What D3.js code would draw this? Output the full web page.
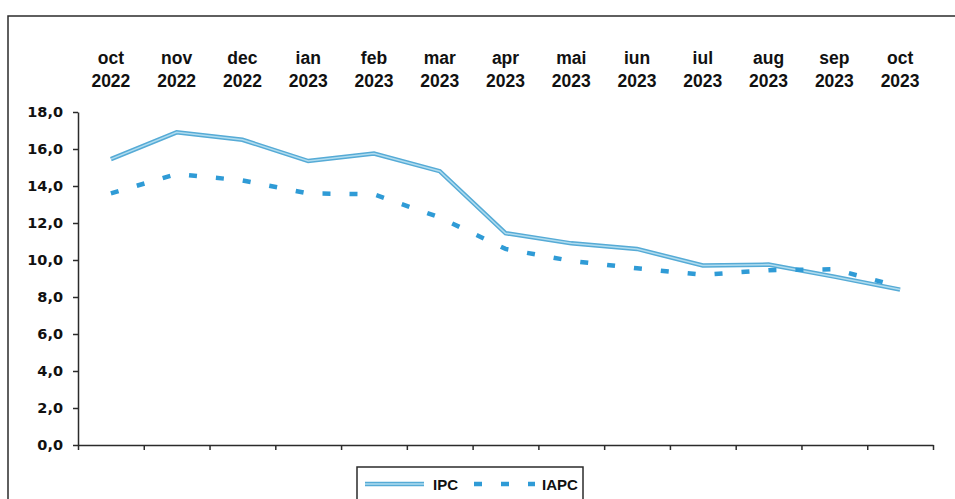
<!DOCTYPE html>
<html>
<head>
<meta charset="utf-8">
<script src="https://cdn.jsdelivr.net/npm/d3@7"></script>
<style>
  body { margin: 0; background: #fff; }
  svg { display: block; }
</style>
</head>
<body>
<div id="chart"></div>
<script>
// data
var months = ["oct", "nov", "dec", "ian", "feb", "mar", "apr", "mai", "iun", "iul", "aug", "sep", "oct"];
var years = ["2022", "2022", "2022", "2023", "2023", "2023", "2023", "2023", "2023", "2023", "2023", "2023", "2023"];
var ipc = [15.45, 16.9, 16.5, 15.35, 15.75, 14.8, 11.45, 10.9, 10.6, 9.7, 9.75, 9.1, 8.4];
var iapc = [13.6, 14.65, 14.3, 13.6, 13.55, 12.3, 10.6, 9.95, 9.55, 9.2, 9.45, 9.5, 8.55];
var yTicks = [0, 2, 4, 6, 8, 10, 12, 14, 16, 18];

var svgWidth = 955;
var svgHeight = 499;

var margin = { top: 112, right: 22, bottom: 54, left: 78 };
var chartWidth = svgWidth - margin.left - margin.right;
var chartHeight = svgHeight - margin.top - margin.bottom;

var svg = d3.select("#chart")
    .append("svg")
    .attr("width", svgWidth)
    .attr("height", svgHeight);

// outer frame (runs off the right and bottom edge)
svg.append("rect")
    .attr("x", 8)
    .attr("y", 16)
    .attr("width", 1000)
    .attr("height", 600)
    .attr("fill", "none")
    .attr("stroke", "#2b2b2b")
    .attr("stroke-width", 1.5);

var chartGroup = svg.append("g")
    .attr("transform", `translate(${margin.left}, ${margin.top})`);

var keys = months.map((m, i) => m + " " + years[i]);

var xScale = d3.scalePoint()
    .domain(keys)
    .range([0, chartWidth])
    .padding(0.5);

// band boundaries for the bottom ticks
var xEdge = d3.scaleLinear()
    .domain([0, keys.length])
    .range([0, chartWidth]);

var yScale = d3.scaleLinear()
    .domain([0, 18])
    .range([chartHeight, 0]);

var fmt = d => d3.format(".1f")(d).replace(".", ",");

var leftAxis = d3.axisLeft(yScale)
    .tickValues(yTicks)
    .tickFormat(fmt)
    .tickSize(5)
    .tickSizeOuter(0)
    .tickPadding(10);

var bottomAxis = d3.axisBottom(xEdge)
    .tickValues(d3.range(0, keys.length + 1))
    .tickFormat("")
    .tickSize(5)
    .tickSizeOuter(0);

var xAxis = chartGroup.append("g")
    .attr("transform", `translate(0, ${chartHeight})`)
    .call(bottomAxis);

var yAxis = chartGroup.append("g")
    .call(leftAxis);

xAxis.selectAll("path, line").attr("stroke", "#2b2b2b").attr("stroke-width", 1.5);
yAxis.selectAll("path, line").attr("stroke", "#2b2b2b").attr("stroke-width", 1.5);
yAxis.selectAll("text")
    .attr("font-family", "DejaVu Sans")
    .attr("font-weight", "bold")
    .attr("font-size", "14.5px")
    .attr("fill", "#111");

// month / year labels above the plot
var topLabels = chartGroup.append("g")
    .selectAll("text")
    .data(keys)
    .enter()
    .append("text")
    .attr("text-anchor", "middle")
    .attr("font-family", "Liberation Sans, Arial")
    .attr("font-weight", "bold")
    .attr("font-size", "17.5px")
    .attr("fill", "#111");

topLabels.append("tspan")
    .attr("x", d => xScale(d))
    .attr("y", -48)
    .text((d, i) => months[i]);

topLabels.append("tspan")
    .attr("x", d => xScale(d))
    .attr("y", -25)
    .text((d, i) => years[i]);

var line = d3.line()
    .x((d, i) => xScale(keys[i]))
    .y(d => yScale(d));

// IPC: light blue double-looking line
chartGroup.append("path")
    .datum(ipc)
    .attr("d", line)
    .attr("fill", "none")
    .attr("stroke", "#56abd6")
    .attr("stroke-width", 4.5);

chartGroup.append("path")
    .datum(ipc)
    .attr("d", line)
    .attr("fill", "none")
    .attr("stroke", "#b0dcef")
    .attr("stroke-width", 1.5);

// IAPC: dashed
chartGroup.append("path")
    .datum(iapc)
    .attr("d", line)
    .attr("fill", "none")
    .attr("stroke", "#2f9bd6")
    .attr("stroke-width", 4.5)
    .attr("stroke-dasharray", "8,19");

// legend
var legend = svg.append("g")
    .attr("transform", "translate(357, 467)");

legend.append("rect")
    .attr("width", 226)
    .attr("height", 60)
    .attr("fill", "#fff")
    .attr("stroke", "#2b2b2b")
    .attr("stroke-width", 1.5);

legend.append("line")
    .attr("x1", 8).attr("x2", 67)
    .attr("y1", 17).attr("y2", 17)
    .attr("stroke", "#56abd6")
    .attr("stroke-width", 4.5);

legend.append("line")
    .attr("x1", 8).attr("x2", 67)
    .attr("y1", 17).attr("y2", 17)
    .attr("stroke", "#b0dcef")
    .attr("stroke-width", 1.5);

legend.append("text")
    .attr("x", 76)
    .attr("y", 23)
    .attr("font-family", "Liberation Sans, Arial")
    .attr("font-weight", "bold")
    .attr("font-size", "15px")
    .attr("fill", "#111")
    .text("IPC");

legend.append("line")
    .attr("x1", 117).attr("x2", 178)
    .attr("y1", 17).attr("y2", 17)
    .attr("stroke", "#2f9bd6")
    .attr("stroke-width", 4.5)
    .attr("stroke-dasharray", "8,19");

legend.append("text")
    .attr("x", 185)
    .attr("y", 23)
    .attr("font-family", "Liberation Sans, Arial")
    .attr("font-weight", "bold")
    .attr("font-size", "15px")
    .attr("fill", "#111")
    .text("IAPC");
</script>
</body>
</html>
